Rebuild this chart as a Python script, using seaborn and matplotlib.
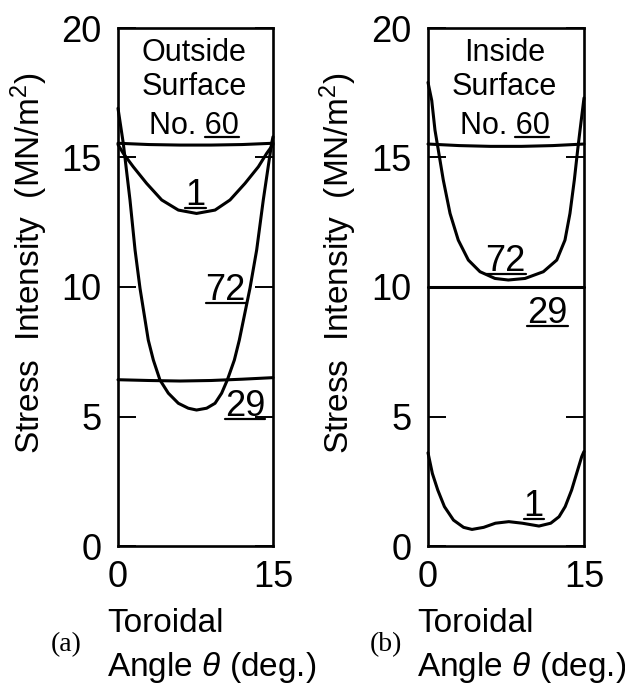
import matplotlib
matplotlib.use("Agg")
import matplotlib.pyplot as plt
import seaborn as sns
import pandas as pd
from matplotlib.lines import Line2D

# ---------------- data ----------------
# Panel (a): outside surface
a_th_60 = [0, 3, 6, 9, 12, 15]
a_si_60 = [15.55, 15.5, 15.48, 15.48, 15.5, 15.55]
a_th_1 = [0, 0.51, 1.48, 2.77, 4.23, 5.84, 7.6, 9.39, 10.84, 12.29, 13.58, 14.39, 15]
a_si_1 = [15.5, 15.16, 14.64, 14.0, 13.36, 12.97, 12.84, 12.97, 13.36, 14.0, 14.64, 15.16, 15.5]
a_th_72 = [0, 0.51, 1.16, 1.65, 2.13, 2.93, 3.42, 4.06, 4.87, 5.84, 6.8, 7.6, 8.58, 9.39,
           10.03, 10.58, 11.26, 11.74, 12.77, 13.42, 14.06, 14.87, 15]
a_si_72 = [16.9, 15.55, 13.36, 11.43, 9.95, 7.95, 7.18, 6.41, 5.9, 5.51, 5.32, 5.25, 5.32, 5.51,
           5.9, 6.41, 7.18, 7.95, 9.95, 11.43, 13.36, 15.55, 15.8]
a_th_29 = [0, 3, 6, 9, 12, 15]
a_si_29 = [6.42, 6.39, 6.37, 6.39, 6.44, 6.5]

# Panel (b): inside surface
b_th_60 = [0, 3, 6, 9, 12, 15]
b_si_60 = [15.52, 15.46, 15.43, 15.43, 15.46, 15.52]
b_th_72 = [0, 0.36, 0.67, 0.99, 1.47, 2.12, 2.91, 3.88, 5.0, 6.44, 7.72, 9.33, 11.09,
           12.38, 13.17, 13.65, 14.07, 14.39, 14.62, 15]
b_si_72 = [17.9, 17.2, 16.06, 15.29, 14.13, 12.84, 11.81, 11.04, 10.59, 10.33, 10.27, 10.33,
           10.59, 11.04, 11.81, 12.84, 14.13, 15.29, 16.06, 17.3]
b_th_29 = [0, 15]
b_si_29 = [10.0, 10.0]
b_th_1 = [0, 0.42, 0.94, 1.58, 2.45, 3.42, 4.23, 5.35, 6.48, 7.77, 9.07, 10.67, 11.8, 12.6,
          13.19, 13.81, 14.29, 14.78, 15]
b_si_1 = [3.6, 2.8, 2.16, 1.52, 1.0, 0.72, 0.64, 0.72, 0.88, 0.94, 0.88, 0.77, 0.88, 1.13,
          1.52, 2.16, 2.8, 3.45, 3.65]

y_ticks = [0, 5, 10, 15, 20]
x_ticks = [0, 15]
ylabel_text = "Stress  Intensity  (MN/m$^2$)"
xlabel_text = "Toroidal\nAngle $\\mathit{\\theta}$ (deg.)"

# curve labels: (text, theta, stress at baseline)
a_labels = [("1", 7.5, 13.17), ("72", 10.43, 9.5), ("29", 12.3, 5.02)]
b_labels = [("72", 7.47, 10.6), ("29", 11.5, 8.61), ("1", 10.16, 1.16)]
a_title = ["Outside", "Surface", "No. 60"]
b_title = ["Inside", "Surface", "No. 60"]

# ---------------- style ----------------
sns.set_theme(style="ticks")
FONT = ["Liberation Sans", "DejaVu Sans"]
plt.rcParams["font.family"] = FONT
plt.rcParams["mathtext.fontset"] = "custom"
plt.rcParams["mathtext.rm"] = "Liberation Sans"
plt.rcParams["mathtext.it"] = "Liberation Sans:italic"
plt.rcParams["mathtext.default"] = "regular"
plt.rcParams["axes.linewidth"] = 1.9
plt.rcParams["axes.edgecolor"] = "black"

W, H = 625, 688
fig = plt.figure(figsize=(W / 100, H / 100), dpi=100)
fig.patch.set_facecolor("white")

def px_axes(left, right, top, bottom):
    return fig.add_axes([left / W, 1 - bottom / H, (right - left) / W, (bottom - top) / H])

ax_a = px_axes(118, 273, 28, 546)
ax_b = px_axes(428, 584, 28, 546)

LW = 2.2
underline_jobs = []

def draw_panel(ax, curves, labels, title, tag, tag_x):
    for th, si in curves:
        df = pd.DataFrame({"theta": th, "si": si})
        sns.lineplot(data=df, x="theta", y="si", ax=ax, color="black",
                     linewidth=LW, sort=False, estimator=None, clip_on=False,
                     solid_joinstyle="round", solid_capstyle="round")
    ax.set_xlim(0, 15)
    ax.set_ylim(0, 20)
    ax.set_xticks(x_ticks)
    ax.set_yticks(y_ticks)
    ax.tick_params(axis="y", direction="in", length=13, width=1.4, left=True,
                   right=True, labelsize=26, pad=12, colors="black")
    ax.tick_params(axis="x", length=0, labelsize=26, pad=10, colors="black")
    ax.set_facecolor("white")
    ax.grid(False)
    for s in ax.spines.values():
        s.set_visible(True)
        s.set_color("black")
    ax.set_ylabel(ylabel_text, fontsize=24, color="black")
    ax.yaxis.set_label_coords(-0.44, 0.545)
    ax.set_xlabel("")
    ax.text(-0.071, -0.12, xlabel_text, transform=ax.transAxes, ha="left",
            va="top", fontsize=24, linespacing=1.4, color="black")
    ax.text(tag_x, -0.19, tag, transform=ax.transAxes, ha="center",
            va="center", fontsize=20, family=["Liberation Serif", "DejaVu Serif"],
            color="black")
    for txt, th, si in labels:
        t = ax.text(th, si, txt, ha="center", va="baseline", fontsize=26, color="black")
        underline_jobs.append((t, None))
    ys = [0.936, 0.871, 0.796]
    for i, line in enumerate(title):
        t = ax.text(0.49, ys[i], line, transform=ax.transAxes, ha="center",
                    va="baseline", fontsize=22, color="black")
        if i == 2:
            underline_jobs.append((t, "60"))

draw_panel(ax_a, [(a_th_60, a_si_60), (a_th_1, a_si_1), (a_th_72, a_si_72), (a_th_29, a_si_29)],
           a_labels, a_title, "(a)", -0.335)
draw_panel(ax_b, [(b_th_60, b_si_60), (b_th_72, b_si_72), (b_th_29, b_si_29), (b_th_1, b_si_1)],
           b_labels, b_title, "(b)", -0.27)

# underline decorations for the curve labels
fig.canvas.draw()
renderer = fig.canvas.get_renderer()
inv = fig.transFigure.inverted()
for t, part in underline_jobs:
    bb = t.get_window_extent(renderer)
    base_y = t.get_transform().transform(t.get_position())[1] - 3
    x0, x1 = bb.x0, bb.x1
    if part is not None:
        tmp = fig.text(0, 0, part, fontproperties=t.get_fontproperties())
        w = tmp.get_window_extent(renderer).width
        tmp.remove()
        x0 = x1 - w
    (fx0, fy), (fx1, _) = inv.transform([(x0, base_y), (x1, base_y)])
    fig.add_artist(Line2D([fx0, fx1], [fy, fy], color="black", linewidth=1.6))

fig.savefig("out.png", dpi=100, facecolor="white")
